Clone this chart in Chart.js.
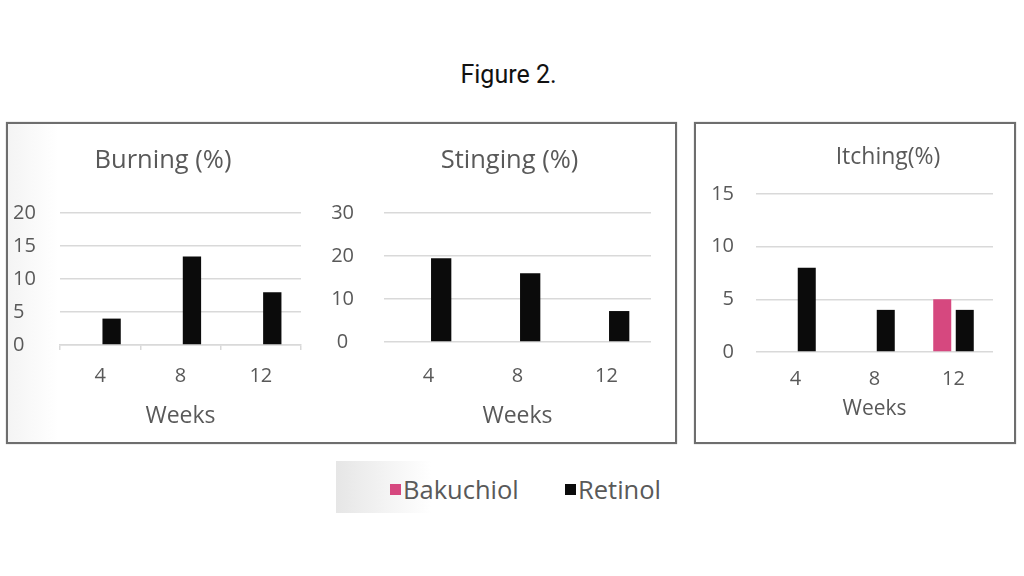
<!DOCTYPE html>
<html>
<head>
<meta charset="utf-8">
<script src="https://cdn.jsdelivr.net/npm/chart.js@4.4.1/dist/chart.umd.min.js"></script>
<style>
html,body{margin:0;padding:0;width:1024px;height:576px;overflow:hidden;background:#fff;}
#fig{position:absolute;left:0;top:60px;width:1017px;text-align:center;font:25px Roboto,sans-serif;line-height:30px;color:#111;}
.box{position:absolute;border:2px solid #6e6e6e;box-sizing:border-box;box-shadow:0 0 1px #999;}
#boxL{left:6px;top:122px;width:671px;height:322px;background:linear-gradient(to right,#f4f4f4 0px,#ffffff 50px);}
#boxR{left:694px;top:122px;width:322px;height:322px;background:#fff;}
canvas{position:absolute;}
#legend{position:absolute;left:336px;top:461px;width:340px;height:52px;background:linear-gradient(to right,#e6e6e6 0px,#f6f6f6 60px,#ffffff 95px);}
.li{position:absolute;top:14px;height:28px;display:flex;align-items:center;font:25.5px "Open Sans",sans-serif;color:#595959;white-space:nowrap;}
.sw{display:inline-block;width:11px;height:11px;margin-right:2px;}
</style>
</head>
<body>
<div id="fig">Figure 2.</div>
<div class="box" id="boxL"></div>
<div class="box" id="boxR"></div>
<canvas id="cBurning" width="304" height="315" style="left:9px;top:125px;"></canvas>
<canvas id="cStinging" width="359" height="315" style="left:330px;top:125px;"></canvas>
<canvas id="cItching" width="376" height="305" style="left:700px;top:125px;"></canvas>
<div id="legend"></div>
<script>
// ---- data ----
const weeks = ['4', '8', '12'];
const seriesNames = ['Bakuchiol', 'Retinol'];
const seriesColors = ['#d6487f', '#0b0b0b'];

const burningBakuchiol = [0, 0, 0];
const burningRetinol = [4, 13.4, 8];
const burningTicks = [0, 5, 10, 15, 20];

const stingingBakuchiol = [0, 0, 0];
const stingingRetinol = [19.5, 16, 7.2];
const stingingTicks = [0, 10, 20, 30];

const itchingBakuchiol = [0, 0, 5];
const itchingRetinol = [8, 4, 4];
const itchingTicks = [0, 5, 10, 15];

const xTitle = 'Weeks';
// ---------------

const TXT = '#595959';
const GRID = '#d9d9d9';
const FONT = '"Open Sans"';

function makeChart(id, p) {
  const ticks = p.ticks;
  new Chart(document.getElementById(id), {
    type: 'bar',
    data: {
      labels: weeks,
      datasets: [
        { label: seriesNames[0], data: p.bak, backgroundColor: seriesColors[0], borderWidth: 0 },
        { label: seriesNames[1], data: p.ret, backgroundColor: seriesColors[1], borderWidth: 0 }
      ]
    },
    options: {
      responsive: false,
      animation: false,
      events: [],
      datasets: { bar: { categoryPercentage: 0.57, barPercentage: 0.8 } },
      layout: { padding: { left: p.padL, right: 0, top: 0, bottom: 0 } },
      plugins: {
        legend: { display: false },
        tooltip: { enabled: false },
        title: {
          display: true, text: p.title, color: TXT,
          font: { family: FONT, size: p.tSize, weight: 'normal', lineHeight: 1.2 },
          padding: { top: p.tTop, bottom: p.tBot }
        }
      },
      scales: {
        x: {
          grid: p.xTicks
            ? { display: true, drawOnChartArea: false, drawTicks: true, tickLength: 5, color: GRID, lineWidth: 1.5, offset: true }
            : { display: false, drawTicks: false },
          border: { display: !!p.xTicks, color: GRID, width: 1.5 },
          ticks: { color: TXT, font: { family: FONT, size: 20, lineHeight: 1.2 }, padding: p.xPad, maxRotation: 0 },
          title: { display: true, text: xTitle, color: TXT, font: { family: FONT, size: p.wSize, lineHeight: 1.2 }, padding: { top: 0, bottom: p.xtBot } },
          afterFit: s => { s.height = p.xH; }
        },
        y: {
          min: ticks[0], max: ticks[ticks.length - 1],
          afterBuildTicks: s => { s.ticks = ticks.map(v => ({ value: v })); },
          grid: { color: GRID, lineWidth: 1.5, drawTicks: false },
          border: { display: false },
          ticks: { color: TXT, font: { family: FONT, size: 20 }, padding: p.yPad, crossAlign: p.yAlign },
          afterFit: s => { s.width = p.yW; }
        },
        pad: {
          position: 'right', display: true,
          grid: { display: false, drawTicks: false },
          border: { display: false },
          ticks: { display: false },
          afterFit: s => { s.width = p.rW; }
        }
      }
    }
  });
}

makeChart('cBurning', {
  title: 'Burning (%)', bak: burningBakuchiol, ret: burningRetinol, ticks: burningTicks,
  padL: 4, yW: 47, yPad: 25, yAlign: 'far', rW: 12,
  tSize: 25.5, tTop: 20.7, tBot: 36.7, wSize: 23, xH: 95, xPad: 14, xtBot: 10, xTicks: true
});
makeChart('cStinging', {
  title: 'Stinging (%)', bak: stingingBakuchiol, ret: stingingRetinol, ticks: stingingTicks,
  padL: 0, yW: 54, yPad: 30, yAlign: 'center', rW: 38,
  tSize: 25.5, tTop: 20.7, tBot: 36.7, wSize: 23, xH: 98, xPad: 22, xtBot: 10, xTicks: false
});
makeChart('cItching', {
  title: 'Itching(%)', bak: itchingBakuchiol, ret: itchingRetinol, ticks: itchingTicks,
  padL: 0, yW: 56, yPad: 22, yAlign: 'near', rW: 83,
  tSize: 23, tTop: 18.2, tBot: 23.2, wSize: 21, xH: 78, xPad: 15, xtBot: 8, xTicks: false
});

// legend (HTML, from the same series arrays)
const lg = document.getElementById('legend');
const lx = [54, 229];
seriesNames.forEach((n, i) => {
  const d = document.createElement('div');
  d.className = 'li';
  d.style.left = lx[i] + 'px';
  d.innerHTML = '<span class="sw" style="background:' + seriesColors[i] + '"></span>' + n;
  lg.appendChild(d);
});
</script>
</body>
</html>
